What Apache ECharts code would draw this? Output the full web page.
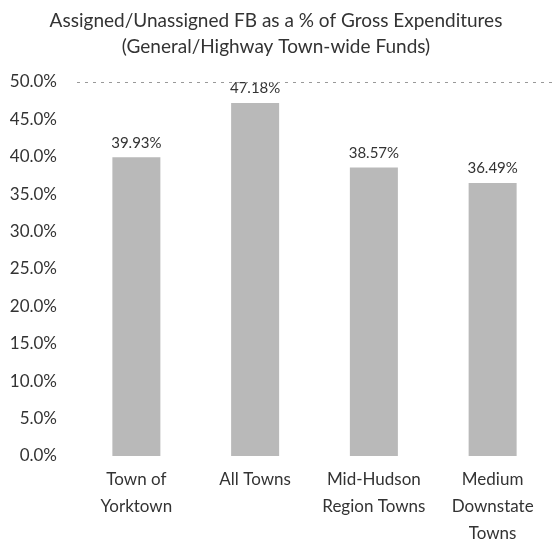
<!DOCTYPE html>
<html>
<head>
<meta charset="utf-8">
<script src="https://cdn.jsdelivr.net/npm/echarts@6/dist/echarts.min.js"></script>
<style>
  html, body { margin: 0; padding: 0; background: #fff; }
  #chart { width: 552px; height: 547px; }
</style>
</head>
<body>
<div id="chart"></div>
<script>
const categories = ["Town of\nYorktown", "All Towns", "Mid-Hudson\nRegion Towns", "Medium\nDownstate\nTowns"];
const fbPercent = [39.93, 47.18, 38.57, 36.49];
const yTicks = { min: 0, max: 50, interval: 5 };

const chart = echarts.init(document.getElementById("chart"));
const font = "Lato, 'Open Sans', sans-serif";

const option = {
  backgroundColor: "#fff",
  title: {
    text: "Assigned/Unassigned FB as a % of Gross Expenditures\n(General/Highway Town-wide Funds)",
    left: "center",
    top: 3,
    textStyle: {
      fontFamily: font,
      fontWeight: "normal",
      fontSize: 19,
      lineHeight: 26,
      color: "#333",
    },
  },
  grid: {
    left: 77,
    right: -19,
    top: 82,
    bottom: 82,
  },
  xAxis: {
    type: "category",
    data: categories,
    axisLine: { show: false },
    axisTick: { show: false },
    axisLabel: {
      margin: 10,
      fontFamily: font,
      fontSize: 17,
      lineHeight: 27,
      color: "#333",
      interval: 0,
      verticalAlign: "top",
    },
  },
  yAxis: {
    type: "value",
    min: yTicks.min,
    max: yTicks.max,
    interval: yTicks.interval,
    axisLine: { show: false },
    axisTick: { show: false },
    splitLine: { show: false },
    axisLabel: {
      margin: 20,
      fontFamily: font,
      fontSize: 17,
      color: "#333",
      formatter: (v) => v.toFixed(1) + "%",
    },
  },
  series: [
    {
      type: "bar",
      data: fbPercent,
      barWidth: 48,
      itemStyle: {
        color: "#b9b9b9",
      },
      label: {
        show: true,
        position: "top",
        distance: 7,
        fontFamily: font,
        fontSize: 15,
        color: "#333",
        formatter: (p) => p.value.toFixed(2) + "%",
      },
      markLine: {
        silent: true,
        symbol: "none",
        label: { show: false },
        lineStyle: { color: "#999", type: [3, 5], width: 1 },
        data: [{ yAxis: 50 }],
      },
    },
  ],
};

chart.setOption(option);
</script>
</body>
</html>
